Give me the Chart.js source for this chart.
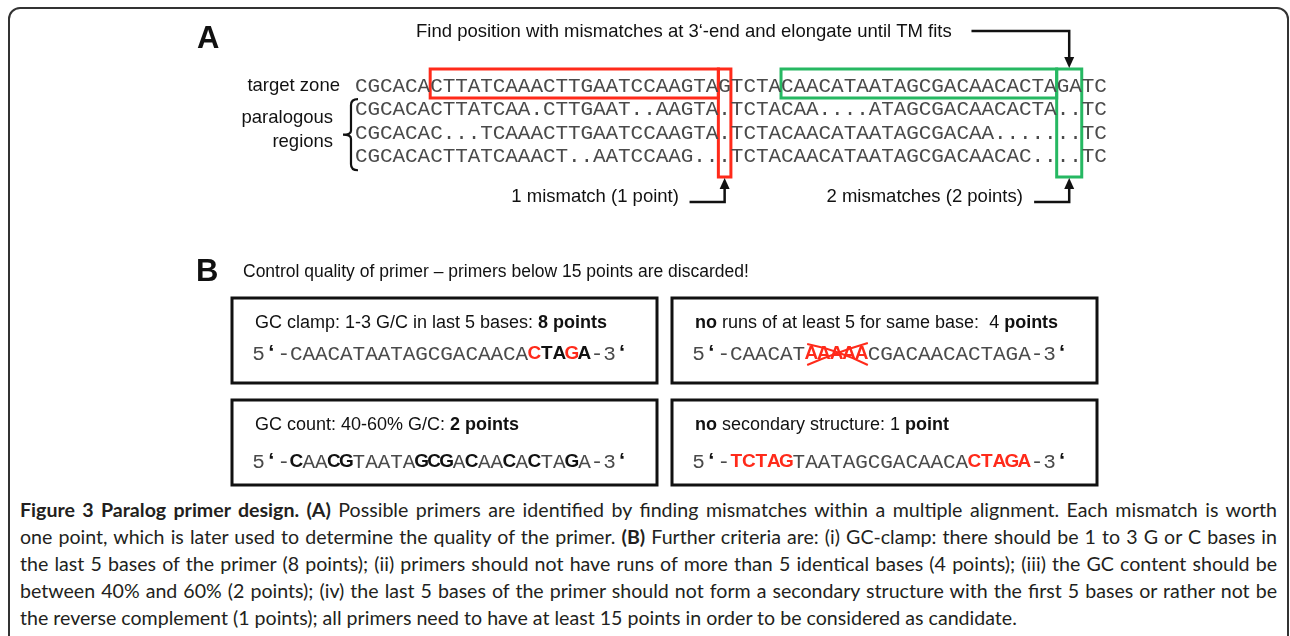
<!DOCTYPE html>
<html>
<head>
<meta charset="utf-8">
<script src="https://cdn.jsdelivr.net/npm/chart.js@4.4.1/dist/chart.umd.min.js"></script>
<style>
html, body { margin: 0; padding: 0; background: #fff; width: 1290px; height: 636px; overflow: hidden; }
#frame { position: absolute; left: 8px; top: 7px; width: 1281px; height: 720px; border: 2px solid #333; border-radius: 12px; box-sizing: border-box; }
#fig { position: absolute; left: 0; top: 0; }
#caption { position: absolute; left: 20px; top: 496px; width: 1257px; font-family: Lato, sans-serif; font-size: 19.6px; line-height: 27px; color: #231f20; }
#caption div { text-align: justify; text-align-last: justify; }
#caption div.last { text-align-last: left; }
</style>
</head>
<body>
<div id="frame"></div>
<canvas id="fig" width="1290" height="495"></canvas>
<div id="caption">
  <div><b>Figure 3 Paralog primer design. (A)</b> Possible primers are identified by finding mismatches within a multiple alignment. Each mismatch is worth</div>
  <div>one point, which is later used to determine the quality of the primer. <b>(B)</b> Further criteria are: (i) GC-clamp: there should be 1 to 3 G or C bases in</div>
  <div>the last 5 bases of the primer (8 points); (ii) primers should not have runs of more than 5 identical bases (4 points); (iii) the GC content should be</div>
  <div>between 40% and 60% (2 points); (iv) the last 5 bases of the primer should not form a secondary structure with the first 5 bases or rather not be</div>
  <div class="last">the reverse complement (1 points); all primers need to have at least 15 points in order to be considered as candidate.</div>
</div>
<script>
// alignment (panel A)
const targetSeq = 'CGCACACTTATCAAACTTGAATCCAAGTAGTCTACAACATAATAGCGACAACACTAGATC';
const paralogSeqs = [
    'CGCACACTTATCAA.CTTGAAT..AAGTA.TCTACAA....ATAGCGACAACACTA..TC',
    'CGCACAC...TCAAACTTGAATCCAAGTA.TCTACAACATAATAGCGACAA.......TC',
    'CGCACACTTATCAAACT..AATCCAAG...TCTACAACATAATAGCGACAACAC....TC'
];
// candidate primers: first column, first mismatch column, end column (exclusive)
const primerStart = [6, 34];
const mismatchStart = [29, 56];
const primerEnd = [30, 58];
const mismatchLabels = ['1 mismatch (1 point)', '2 mismatches (2 points)'];
const topNote = 'Find position with mismatches at 3\u2018-end and elongate until TM fits';

// quality criteria (panel B): title runs [text, bold], sequence, marks (n normal, b bold, r red bold)
const criteriaTitles = [
    [['GC clamp: 1-3 G/C in last 5 bases: ', false], ['8 points', true]],
    [['GC count: 40-60% G/C: ', false], ['2 points', true]],
    [['no', true], [' runs of at least 5 for same base:  4 ', false], ['points', true]],
    [['no', true], [' secondary structure: 1 ', false], ['point', true]]
];
const criteriaSeqs = [
    'CAACATAATAGCGACAACACTAGA',
    'CAACGTAATAGCGACAACACTAGA',
    'CAACATAAAAACGACAACACTAGA',
    'TCTAGTAATAGCGACAACACTAGA'
];
const criteriaMarks = [
    'nnnnnnnnnnnnnnnnnnnrbbrb',
    'bnnbbnnnnnbbbnbnnbnbnnbn',
    'nnnnnnrrrrrnnnnnnnnnnnnn',
    'rrrrrnnnnnnnnnnnnnnrrrrr'
];
const crossedRun = [6, 11];

// layout
const W = 1290, H = 495;
const SEQ_LEFT = 355, COL_W = 12.53, ROW0 = 86, ROW_H = 23.6;
const BOX_TOP = -0.72, BOX_MID = 0.51, BOX_BOT = 3.86;
const RED = '#ff2a1a', GREEN = '#26b862';
const primerColors = [RED, GREEN];
const SANS = '"Liberation Sans", Arial, sans-serif';
const MONO = '21px "Liberation Mono", monospace';
const SEQ_GRAY = '#4a4a4a';

function rect(c0, c1, r0, r1, color) {
    return {
        data: [{x: c0, y: r0}, {x: c1, y: r0}, {x: c1, y: r1}, {x: c0, y: r1}, {x: c0, y: r0}],
        showLine: true, borderColor: color, borderWidth: 3, pointRadius: 0,
        borderJoinStyle: 'miter', borderCapStyle: 'square', tension: 0
    };
}
function shaft(points) {
    return {
        data: points.map(p => ({x: p[0], y: p[1]})),
        showLine: true, borderColor: '#111', borderWidth: 2.5, pointRadius: 0,
        borderJoinStyle: 'miter', tension: 0
    };
}

const datasets = [];
primerStart.forEach((s, i) => {
    datasets.push(rect(s, mismatchStart[i], BOX_TOP, BOX_MID, primerColors[i]));
    datasets.push(rect(mismatchStart[i], primerEnd[i], BOX_TOP, BOX_BOT, primerColors[i]));
});
const greenMid = (mismatchStart[1] + primerEnd[1]) / 2;
const redMid = (mismatchStart[0] + primerEnd[0]) / 2;
datasets.push(shaft([[49.2, -2.33], [greenMid, -2.33], [greenMid, BOX_TOP - 0.4]]));
datasets.push(shaft([[26.7, 4.92], [redMid, 4.92], [redMid, BOX_BOT + 0.4]]));
datasets.push(shaft([[54.2, 4.92], [greenMid, 4.92], [greenMid, BOX_BOT + 0.4]]));

const diagram = {
    id: 'diagram',
    afterDatasetsDraw(chart) {
        const ctx = chart.ctx;
        const X = v => chart.scales.x.getPixelForValue(v);
        const Y = v => chart.scales.y.getPixelForValue(v);
        const cw = X(1) - X(0);
        ctx.save();
        ctx.textBaseline = 'middle';

        // panel letters and notes
        ctx.fillStyle = '#111';
        ctx.textAlign = 'left';
        ctx.font = 'bold 31px ' + SANS;
        ctx.fillText('A', 197, 39);
        ctx.fillText('B', 196, 272);
        ctx.font = '18.5px ' + SANS;
        ctx.fillText(topNote, 416, 32);
        ctx.font = '17.5px ' + SANS;
        ctx.fillText('Control quality of primer \u2013 primers below 15 points are discarded!', 243, 272);

        ctx.font = '18.5px ' + SANS;
        ctx.textAlign = 'right';
        ctx.fillText('target zone', X(-1.2), Y(0));
        ctx.fillText('paralogous', X(-1.75), 118);
        ctx.fillText('regions', X(-1.75), 142);
        ctx.fillText(mismatchLabels[0], X(25.85), Y(4.72));
        ctx.fillText(mismatchLabels[1], X(53.3), Y(4.72));

        // arrow heads
        const head = (px, py, dir) => {
            ctx.beginPath();
            ctx.moveTo(px, py);
            ctx.lineTo(px - 5, py - dir * 11);
            ctx.lineTo(px + 5, py - dir * 11);
            ctx.closePath();
            ctx.fill();
        };
        head(X(greenMid), Y(BOX_TOP) - 1, 1);
        head(X(redMid), Y(BOX_BOT) + 1, -1);
        head(X(greenMid), Y(BOX_BOT) + 1, -1);

        // brace
        const bx = X(-0.32), bt = Y(BOX_MID) + 1, bb = Y(3.57), bm = (bt + bb) / 2;
        ctx.strokeStyle = '#111';
        ctx.lineWidth = 2.2;
        ctx.beginPath();
        ctx.moveTo(bx + 7, bt);
        ctx.quadraticCurveTo(bx, bt, bx, bt + 6);
        ctx.lineTo(bx, bm - 4);
        ctx.quadraticCurveTo(bx, bm, bx - 8, bm);
        ctx.quadraticCurveTo(bx, bm, bx, bm + 4);
        ctx.lineTo(bx, bb - 6);
        ctx.quadraticCurveTo(bx, bb, bx + 7, bb);
        ctx.stroke();

        // alignment
        ctx.textAlign = 'center';
        ctx.font = MONO;
        ctx.fillStyle = SEQ_GRAY;
        [targetSeq].concat(paralogSeqs).forEach((s, r) => {
            for (let i = 0; i < s.length; i++) ctx.fillText(s[i], X(i + 0.5), Y(r));
        });

        // panel B boxes
        const boxes = [[232, 298], [232, 400], [672, 298], [672, 400]];
        const seqRow = [354, 462, 354, 462];
        boxes.forEach((b, k) => {
            ctx.strokeStyle = '#111';
            ctx.lineWidth = 3;
            ctx.strokeRect(b[0], b[1], 425, 85);

            // title
            ctx.textAlign = 'left';
            ctx.fillStyle = '#111';
            let tx = b[0] + 23;
            criteriaTitles[k].forEach(run => {
                ctx.font = (run[1] ? 'bold ' : '') + '18px ' + SANS;
                ctx.fillText(run[0], tx, b[1] + 25);
                tx += ctx.measureText(run[0]).width;
            });

            // sequence 5'-...-3'
            ctx.textAlign = 'center';
            const x0 = b[0] + 58, yy = seqRow[k];
            const cell = (ch, c, style) => {
                if (style === 'n') { ctx.font = MONO; ctx.fillStyle = SEQ_GRAY; }
                else if (style === 'q') { ctx.font = 'bold 22px ' + SANS; ctx.fillStyle = '#111'; }
                else { ctx.font = 'bold 19px ' + SANS; ctx.fillStyle = style === 'r' ? RED : '#111'; }
                ctx.fillText(ch, x0 + (c + 0.5) * cw, yy);
            };
            cell('5', -3, 'n'); cell('\u2018', -2, 'q'); cell('-', -1, 'n');
            const s = criteriaSeqs[k], m = criteriaMarks[k];
            for (let i = 0; i < s.length; i++) cell(s[i], i, m[i]);
            cell('-', s.length, 'n'); cell('3', s.length + 1, 'n'); cell('\u2018', s.length + 2, 'q');

            if (k === 2) {
                const xa = x0 + crossedRun[0] * cw + 2, xb = x0 + crossedRun[1] * cw;
                ctx.strokeStyle = RED;
                ctx.lineWidth = 2;
                ctx.beginPath();
                ctx.moveTo(xa, yy - 10); ctx.quadraticCurveTo((xa + xb) / 2, yy - 4, xb, yy + 11);
                ctx.moveTo(xa, yy + 11); ctx.quadraticCurveTo((xa + xb) / 2, yy - 2, xb, yy - 11);
                ctx.stroke();
            }
        });
        ctx.restore();
    }
};

new Chart(document.getElementById('fig'), {
    type: 'scatter',
    data: { datasets: datasets },
    options: {
        responsive: false,
        animation: false,
        events: [],
        layout: { padding: 0 },
        plugins: { legend: { display: false }, tooltip: { enabled: false } },
        scales: {
            x: { type: 'linear', display: false, min: -SEQ_LEFT / COL_W, max: (W - SEQ_LEFT) / COL_W },
            y: { type: 'linear', display: false, reverse: true, min: -ROW0 / ROW_H, max: (H - ROW0) / ROW_H }
        }
    },
    plugins: [diagram]
});
</script>
</body>
</html>
